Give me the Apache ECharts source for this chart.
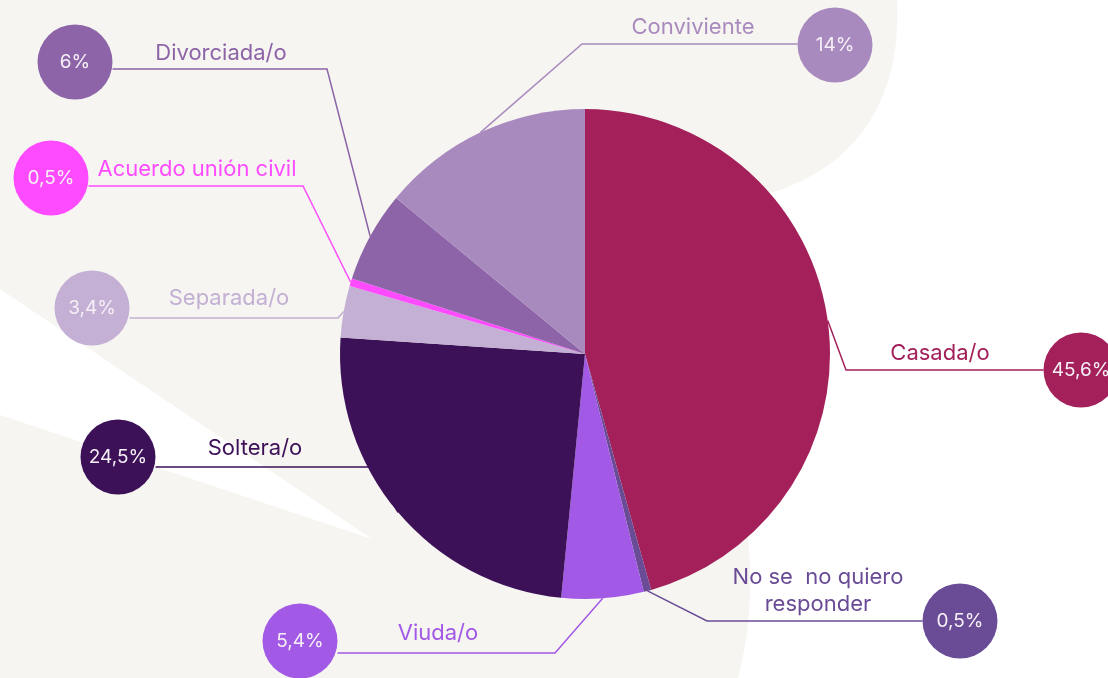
<!DOCTYPE html>
<html>
<head>
<meta charset="utf-8">
<script src="https://cdn.jsdelivr.net/npm/echarts@6/dist/echarts.min.js"></script>
<style>
  html, body { margin: 0; padding: 0; background: #f6f5f1; }
  #main { width: 1108px; height: 678px; }
</style>
</head>
<body>
<div id="main"></div>
<script>
// datos: estado civil (%)
var categories = ['Casada/o', 'No se  no quiero\nresponder', 'Viuda/o', 'Soltera/o', 'Separada/o', 'Acuerdo unión civil', 'Divorciada/o', 'Conviviente'];
var values = [45.6, 0.5, 5.4, 24.5, 3.4, 0.5, 6, 14];
var colors = ['#a3205b', '#6a4c96', '#a259e6', '#3d1158', '#c3b0d4', '#ff4bff', '#8d64a8', '#a98abe'];

// posiciones de etiquetas (nombre, circulo, codo de la linea)
var nameSpots = [[940, 353], [818, 591], [438, 633], [255, 448], [229, 298], [197, 169], [221, 53], [693, 27]];
var circleSpots = [[1081, 370], [960, 621], [300, 641], [118, 457], [92, 308], [51, 178], [75, 62], [835, 45]];
var elbows = [[846, 370], [707, 621], [555, 653], [372, 467], [338, 318], [303, 186], [327, 69], [582, 44]];
var circleR = 37.5;

var chartDom = document.getElementById('main');
var myChart = echarts.init(chartDom, null, { renderer: 'canvas' });

function pct(v) {
  return String(v).replace('.', ',') + '%';
}

// curva cubica -> puntos (solo para la forma de fondo)
function bez(p0, p1, p2, p3, n) {
  var pts = [];
  for (var k = 0; k <= n; k++) {
    var t = k / n, u = 1 - t;
    pts.push([
      u * u * u * p0[0] + 3 * u * u * t * p1[0] + 3 * u * t * t * p2[0] + t * t * t * p3[0],
      u * u * u * p0[1] + 3 * u * u * t * p1[1] + 3 * u * t * t * p2[1] + t * t * t * p3[1]
    ]);
  }
  return pts;
}

var whiteRight = []
  .concat(bez([897, 0], [902, 95], [860, 170], [760, 196], 30))
  .concat([[700, 300]])
  .concat(bez([745, 520], [756, 580], [748, 640], [738, 678], 20))
  .concat([[1108, 678], [1108, 0]]);

var nameData = categories.map(function (c, i) {
  return {
    name: c,
    value: values[i],
    itemStyle: { color: colors[i] },
    label: { color: colors[i] },
    labelLine: { lineStyle: { color: colors[i] } }
  };
});

var circleData = categories.map(function (c, i) {
  return {
    name: c,
    value: values[i],
    label: { backgroundColor: colors[i] }
  };
});

var option = {
  backgroundColor: '#f6f5f1',
  animation: false,
  graphic: [
    {
      type: 'polygon',
      z: -10,
      shape: { points: whiteRight },
      style: { fill: '#ffffff' }
    },
    {
      type: 'polygon',
      z: -10,
      shape: { points: [[0, 289], [372, 539], [0, 415]] },
      style: { fill: '#ffffff' }
    }
  ],
  series: [
    {
      type: 'pie',
      center: [585, 354],
      radius: 245,
      startAngle: 90,
      clockwise: true,
      avoidLabelOverlap: false,
      silent: true,
      data: nameData,
      label: {
        show: true,
        formatter: '{b}',
        fontFamily: 'Inter',
        fontSize: 22,
        lineHeight: 27,
        width: 260,
        overflow: 'none'
      },
      labelLine: {
        show: true,
        lineStyle: { width: 1.5 }
      },
      labelLayout: function (params) {
        var i = params.dataIndex;
        var start = params.labelLinePoints[0];
        var c = circleSpots[i];
        var e = elbows[i];
        var endX = c[0] < e[0] ? c[0] + circleR : c[0] - circleR;
        return {
          x: nameSpots[i][0],
          y: nameSpots[i][1],
          align: 'center',
          verticalAlign: 'middle',
          labelLinePoints: [start, e, [endX, e[1]]]
        };
      }
    },
    {
      type: 'pie',
      center: [585, 354],
      radius: 245,
      startAngle: 90,
      clockwise: true,
      avoidLabelOverlap: false,
      silent: true,
      data: circleData,
      itemStyle: { color: 'rgba(0,0,0,0)' },
      label: {
        show: true,
        formatter: function (p) { return pct(p.value); },
        fontFamily: 'Inter',
        fontSize: 19,
        color: '#f6f0f6',
        width: circleR * 2,
        height: circleR * 2,
        lineHeight: circleR * 2,
        borderRadius: circleR,
        align: 'center',
        overflow: 'none'
      },
      labelLine: { show: false },
      labelLayout: function (params) {
        var c = circleSpots[params.dataIndex];
        return {
          x: c[0],
          y: c[1],
          align: 'center',
          verticalAlign: 'middle'
        };
      }
    }
  ]
};

myChart.setOption(option);
</script>
</body>
</html>
